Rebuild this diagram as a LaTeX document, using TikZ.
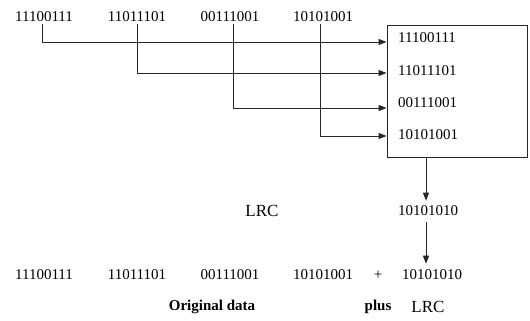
\documentclass[tikz,border=0pt]{standalone}
\usepackage{fontspec}
\setmainfont{Liberation Serif}
\usetikzlibrary{arrows.meta,calc}
\begin{document}
\begin{tikzpicture}[x=1pt,y=-1pt,
  bits/.style={inner sep=0pt,font=\fontsize{15}{17}\selectfont},
  captxt/.style={inner sep=0pt,font=\fontsize{15}{17}\selectfont\bfseries},
  lrctxt/.style={inner sep=0pt,font=\fontsize{17}{19}\selectfont},
  wire/.style={line width=0.9pt,black!85},
  arr/.style={wire,-{Triangle[length=8pt,width=6pt]}}]
\useasboundingbox (0,0) rectangle (530,321);

% data units along the top
\node[bits] (t1) at (44,17) {11100111};
\node[bits] (t2) at (137,17) {11011101};
\node[bits] (t3) at (230,17) {00111001};
\node[bits] (t4) at (323,17) {10101001};

% the block that stacks the units
\node[draw,wire,minimum width=140pt,minimum height=132pt,inner sep=0pt] (box) at (457,91) {};
\node[bits,anchor=west] (b1) at (398,38) {11100111};
\node[bits,anchor=west] (b2) at (398,71) {11011101};
\node[bits,anchor=west] (b3) at (398,103) {00111001};
\node[bits,anchor=west] (b4) at (398,135) {10101001};

\coordinate (in1) at (box.west |- 0,42);
\coordinate (in2) at (box.west |- 0,73);
\coordinate (in3) at (box.west |- 0,108);
\coordinate (in4) at (box.west |- 0,136);

\draw[arr] ([xshift=-2pt,yshift=-2pt]t1.south) |- (in1);
\draw[arr] ([yshift=-2pt]t2.south) |- (in2);
\draw[arr] ([xshift=3pt,yshift=-2pt]t3.south) |- (in3);
\draw[arr] ([xshift=-3pt,yshift=-2pt]t4.south) |- (in4);

% parity row
\node[lrctxt] (lrcl) at (262,211) {LRC};
\node[bits] (lrc) at (428,211) {10101010};
\draw[arr] (box.south -| 426,0) -- ([yshift=5pt]lrc.north -| 426,0);

% transmitted frame
\node[bits] (d1) at (44,275) {11100111};
\node[bits] (d2) at (137,275) {11011101};
\node[bits] (d3) at (230,275) {00111001};
\node[bits] (d4) at (323,275) {10101001};
\node[bits] (plus) at (378,275) {+};
\node[bits] (d5) at (432,275) {10101010};
\draw[arr] ([yshift=-6pt]lrc.south -| 426,0) -- ([yshift=6pt]d5.north -| 426,0);

\node[captxt] (orig) at (212,307) {Original data};
\node[captxt] (pl) at (378,307) {plus};
\node[lrctxt] (lrcb) at (428,307) {LRC};
\end{tikzpicture}
\end{document}
